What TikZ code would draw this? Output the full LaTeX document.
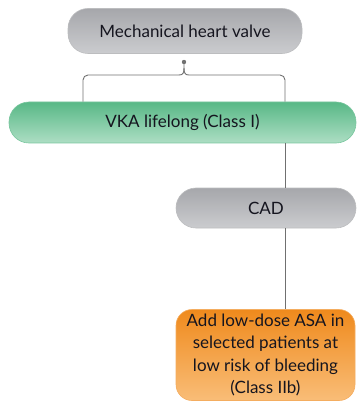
\documentclass[tikz,border=0pt]{standalone}
\usepackage{fontspec}
\setmainfont{Lato}
\usetikzlibrary{calc}
\definecolor{txt}{HTML}{15151F}
\definecolor{grayT}{HTML}{A6A7AB}
\definecolor{grayB}{HTML}{CBCCCF}
\definecolor{greenT}{HTML}{58B886}
\definecolor{greenB}{HTML}{ADDEC4}
\definecolor{orangeT}{HTML}{EF8A1C}
\definecolor{orangeB}{HTML}{F9BD78}
\definecolor{conn}{HTML}{707070}
\tikzset{
  pill/.style={rounded corners=20pt, inner sep=0pt, align=center, text=txt, font=\fontsize{17}{20}\selectfont},
  graypill/.style={pill, top color=grayT, bottom color=grayB, draw=grayB!80!gray, line width=0.6pt},
  greenpill/.style={pill, top color=greenT, bottom color=greenB, draw=greenT!80!white, line width=0.6pt},
  orangebox/.style={pill, rounded corners=16pt, top color=orangeT, bottom color=orangeB, draw=orangeT!70!white, line width=0.6pt, font=\fontsize{17}{22.5}\selectfont},
  link/.style={draw=conn, line width=0.9pt},
}
\begin{document}
\begin{tikzpicture}[x=1pt,y=-1pt]
\useasboundingbox (0,0) rectangle (357,403);
\node[graypill, minimum width=234pt, minimum height=45pt] (mhv) at (185,31) {Mechanical heart valve};
\node[greenpill, minimum width=347pt, minimum height=41pt] (vka) at (182.5,122.5) {VKA lifelong (Class I)};
\node[graypill, minimum width=180pt, minimum height=40pt] (cad) at (266,208) {CAD};
\node[orangebox, minimum width=179pt, minimum height=91pt] (asa) at (265.5,355) {Add low-dose ASA in\\selected patients at\\low risk of bleeding\\(Class IIb)};
\coordinate (dot) at (184,62);
\coordinate (brL) at (83,75);
\coordinate (brR) at (285,75);
\fill[conn] (dot) circle (2.2pt);
\draw[link] (dot) -- ++(0,6) .. controls +(0,5) and +(4,0) .. ($(dot)+(-5,13)$);
\draw[link] (dot) ++(0,6) .. controls +(0,5) and +(-4,0) .. ($(dot)+(5,13)$);
\draw[link, rounded corners=5pt] ($(dot)+(-5,13)$) -- (brL) -- (vka.north -| brL);
\draw[link, rounded corners=5pt] ($(dot)+(5,13)$) -- (brR) -- (vka.north -| brR);
\draw[link] (vka.south -| brR) -- (cad.north -| brR);
\draw[link] (cad.south -| brR) -- (asa.north -| brR);
\end{tikzpicture}
\end{document}
